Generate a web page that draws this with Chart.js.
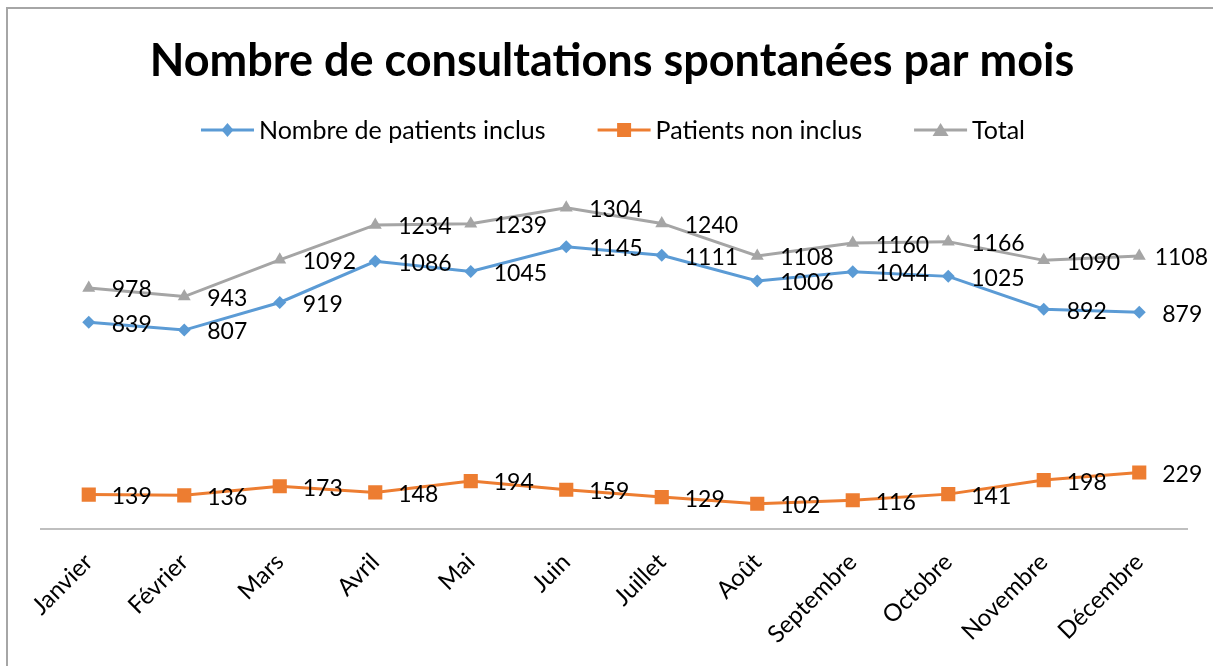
<!DOCTYPE html>
<html>
<head>
<meta charset="utf-8">
<script src="https://cdn.jsdelivr.net/npm/chart.js@4"></script>
<style>
  html, body { margin: 0; padding: 0; background: #fff; overflow: hidden; }
  #wrap { width: 1213px; height: 666px; }
</style>
</head>
<body>
<div id="wrap"><canvas id="chart" width="1213" height="666"></canvas></div>
<script>
// Chart data
const months = ['Janvier', 'Février', 'Mars', 'Avril', 'Mai', 'Juin', 'Juillet', 'Août', 'Septembre', 'Octobre', 'Novembre', 'Décembre'];
const inclus = [839, 807, 919, 1086, 1045, 1145, 1111, 1006, 1044, 1025, 892, 879];
const nonInclus = [139, 136, 173, 148, 194, 159, 129, 102, 116, 141, 198, 229];
const total = [978, 943, 1092, 1234, 1239, 1304, 1240, 1108, 1160, 1166, 1090, 1108];

const BLUE = '#5b9bd5';
const ORANGE = '#ed7d31';
const GREY = '#a5a5a5';
const FONT = 'Lato, "Noto Sans", sans-serif';
const TITLE = 'Nombre de consultations spontanées par mois';

// Draw one legend marker centred on (x, y)
function drawMarker(ctx, style, x, y) {
	ctx.beginPath();
	if (style === 'rectRot') {
		ctx.moveTo(x, y - 7); ctx.lineTo(x + 6, y); ctx.lineTo(x, y + 7); ctx.lineTo(x - 6, y);
	} else if (style === 'rect') {
		ctx.rect(x - 7, y - 7, 14, 14);
	} else {
		ctx.moveTo(x, y - 7); ctx.lineTo(x + 8, y + 6); ctx.lineTo(x - 8, y + 6);
	}
	ctx.closePath();
	ctx.fill();
}

// Title and legend above the plot (Excel style: line + marker swatch)
const header = {
	id: 'header',
	afterDraw(chart) {
		const ctx = chart.ctx;
		ctx.save();
		ctx.fillStyle = '#000';
		ctx.textAlign = 'center';
		ctx.textBaseline = 'middle';
		ctx.font = 'bold 45px ' + FONT;
		ctx.fillText(TITLE, 612, 61);

		ctx.font = '25px ' + FONT;
		ctx.textAlign = 'left';
		const lineLen = 53, gapText = 5, gapItem = 52;
		const items = chart.data.datasets.map((ds) => ({
			ds,
			w: lineLen + gapText + ctx.measureText(ds.label).width,
		}));
		const totalW = items.reduce((s, it) => s + it.w, 0) + gapItem * (items.length - 1);
		let x = 613 - totalW / 2;
		const y = 130;
		items.forEach((it) => {
			ctx.strokeStyle = it.ds.borderColor;
			ctx.fillStyle = it.ds.backgroundColor;
			ctx.lineWidth = 3;
			ctx.beginPath();
			ctx.moveTo(x, y);
			ctx.lineTo(x + lineLen, y);
			ctx.stroke();
			drawMarker(ctx, it.ds.pointStyle, x + lineLen / 2, y);
			ctx.fillStyle = '#000';
			ctx.fillText(it.ds.label, x + lineLen + gapText, y + 1);
			x += it.w + gapItem;
		});
		ctx.restore();
	},
};

// Value labels to the right of each point, kept inside the frame
const valueLabels = {
	id: 'valueLabels',
	afterDatasetsDraw(chart) {
		const ctx = chart.ctx;
		ctx.save();
		ctx.font = '23px ' + FONT;
		ctx.fillStyle = '#000';
		ctx.textAlign = 'left';
		ctx.textBaseline = 'middle';
		chart.data.datasets.forEach((ds, i) => {
			chart.getDatasetMeta(i).data.forEach((pt, j) => {
				const txt = String(ds.data[j]);
				const w = ctx.measureText(txt).width;
				const x = Math.min(pt.x + 23, 1208 - w);
				ctx.fillText(txt, x, pt.y + 2);
			});
		});
		ctx.restore();
	},
};

// Outer frame of the chart
const frame = {
	id: 'frame',
	beforeDraw(chart) {
		const ctx = chart.ctx;
		ctx.save();
		ctx.strokeStyle = '#a6a6a6';
		ctx.lineWidth = 2;
		ctx.strokeRect(7, 8, 1230, 680);
		ctx.restore();
	},
};

new Chart(document.getElementById('chart'), {
	type: 'line',
	data: {
		labels: months,
		datasets: [
			{
				label: 'Nombre de patients inclus',
				data: inclus,
				borderColor: BLUE,
				backgroundColor: BLUE,
				pointStyle: 'rectRot',
				pointRadius: 6.5,
			},
			{
				label: 'Patients non inclus',
				data: nonInclus,
				borderColor: ORANGE,
				backgroundColor: ORANGE,
				pointStyle: 'rect',
				pointRadius: 10,
			},
			{
				label: 'Total',
				data: total,
				borderColor: GREY,
				backgroundColor: GREY,
				pointStyle: 'triangle',
				pointRadius: 7.5,
			},
		],
	},
	options: {
		responsive: false,
		animation: false,
		elements: {
			line: { borderWidth: 3, tension: 0 },
			point: { borderWidth: 0 },
		},
		layout: { padding: { left: 41, right: 26, top: 184, bottom: -2 } },
		plugins: {
			title: { display: false },
			legend: { display: false },
			tooltip: { enabled: false },
		},
		scales: {
			x: {
				offset: true,
				grid: { display: false, drawTicks: false },
				border: { display: true, color: '#bfbfbf', width: 2 },
				ticks: {
					color: '#000',
					font: { family: FONT, size: 24 },
					minRotation: 45,
					maxRotation: 45,
					padding: 19,
				},
			},
			y: {
				display: false,
				min: 0,
				max: 1400,
			},
		},
	},
	plugins: [frame, valueLabels, header],
});
</script>
</body>
</html>
